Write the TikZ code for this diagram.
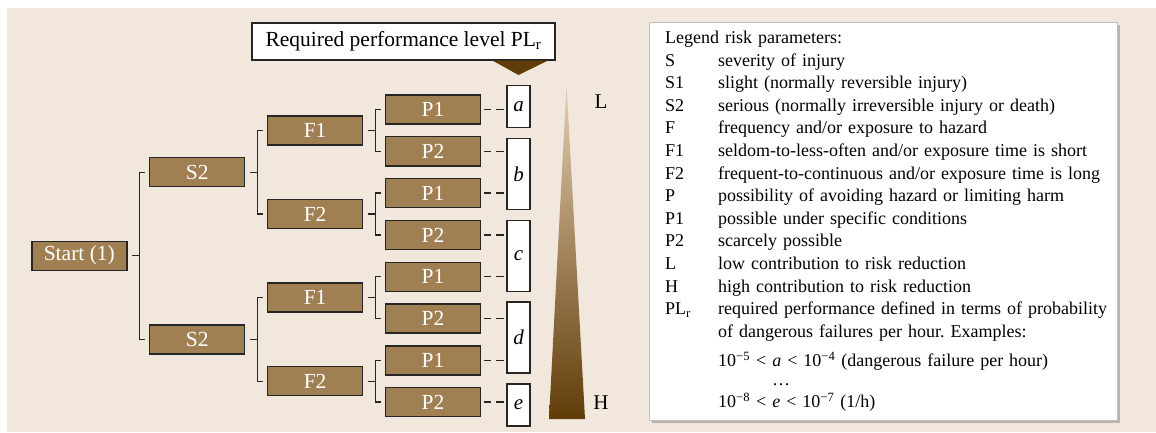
\documentclass[tikz,border=0pt]{standalone}
\usepackage{fontspec}
\setmainfont{Liberation Serif}
\usetikzlibrary{positioning,calc,shadows}
\definecolor{panelbg}{RGB}{242,231,221}
\definecolor{boxbrown}{RGB}{160,128,82}
\definecolor{darkbrown}{RGB}{96,60,8}
\definecolor{lightbrown}{RGB}{228,206,178}
\tikzset{
	treebox/.style={draw=black!85, line width=1.4pt, fill=boxbrown, text=white,
		minimum width=95pt, minimum height=29pt, inner sep=0pt,
		font=\fontsize{21.5}{24}\selectfont},
	lvlbox/.style={draw=black!85, line width=1.3pt, fill=white, minimum width=23pt,
		inner sep=0pt, font=\fontsize{21}{24}\selectfont\itshape},
	fork/.style={line width=1.3pt, black!85},
	dashlink/.style={line width=1.3pt, black!85, dash pattern=on 7.5pt off 5pt},
	sidelabel/.style={font=\fontsize{21}{24}\selectfont, inner sep=0pt}
}
\newcommand{\branch}[2]{\draw[fork] ([xshift=4.5pt]#1.east) -- ++(7.5pt,0) |- ([xshift=-4pt]#2.west);}

\begin{document}
\frenchspacing
\begin{tikzpicture}[x=1pt, y=-1pt]
	
	\useasboundingbox (0,0) rectangle (1156,433);
	\fill[white] (0,0) rectangle (1156,433);
	\fill[panelbg] (7,8) rectangle (1156,432);
	
	%% -- P level
	\node[treebox] (p1) at (433,109.5) {P1};
	\node[treebox, below=11.4pt of p1] (p2) {P2};
	\node[treebox, below=11.4pt of p2] (p3) {P1};
	\node[treebox, below=11.4pt of p3] (p4) {P2};
	\node[treebox, below=11.4pt of p4] (p5) {P1};
	\node[treebox, below=11.4pt of p5] (p6) {P2};
	\node[treebox, below=11.4pt of p6] (p7) {P1};
	\node[treebox, below=11.4pt of p7] (p8) {P2};
	
	%% -- F level
	\node[treebox, left=21.5pt of $(p1.west)!0.5!(p2.west)$] (f1) {F1};
	\node[treebox, left=21.5pt of $(p3.west)!0.5!(p4.west)$] (f2) {F2};
	\node[treebox, left=21.5pt of $(p5.west)!0.5!(p6.west)$] (f3) {F1};
	\node[treebox, left=21.5pt of $(p7.west)!0.5!(p8.west)$] (f4) {F2};
	
	%% -- S level and start
	\node[treebox, left=21.5pt of $(f1.west)!0.5!(f2.west)$] (s1) {S2};
	\node[treebox, left=21.5pt of $(f3.west)!0.5!(f4.west)$] (s2) {S2};
	\node[treebox, left=21.5pt of $(s1.west)!0.5!(s2.west)$] (start) {Start (1)};
	
	%% -- Brackets
	\branch{start}{s1} \branch{start}{s2}
	\branch{s1}{f1} \branch{s1}{f2}
	\branch{s2}{f3} \branch{s2}{f4}
	\branch{f1}{p1} \branch{f1}{p2}
	\branch{f2}{p3} \branch{f2}{p4}
	\branch{f3}{p5} \branch{f3}{p6}
	\branch{f4}{p7} \branch{f4}{p8}
	
	%% -- Performance levels
	\node[lvlbox, minimum height=42pt, anchor=north] (a) at (518.5,85) {a};
	\node[lvlbox, minimum height=71pt, below=9.5pt of a] (b) {b};
	\node[lvlbox, minimum height=71pt, below=9.5pt of b] (c) {c};
	\node[lvlbox, minimum height=71pt, below=9.5pt of c] (d) {d};
	\node[lvlbox, minimum height=42pt, below=9.5pt of d] (e) {e};
	
	\foreach \p/\l in {p1/a, p2/b, p3/b, p4/c, p5/c, p6/d, p7/d, p8/e}
	\draw[dashlink] ([xshift=2.5pt]\p.east) -- (\p.east -| \l.west);
	
	%% -- Title and pointer
	\node[draw=black!85, line width=1.4pt, fill=white, minimum width=303pt,
	minimum height=37pt, inner sep=0pt, font=\fontsize{21.5}{24}\selectfont]
	(title) at (403.5,41.5) {Required performance level PL\textsubscript{r}};
	
	\fill[darkbrown] ([xshift=-63pt]title.south east) -- ([xshift=-8pt]title.south east)
	-- ([yshift=10pt]a.north) -- cycle;
	
	%% -- Risk wedge
	\coordinate (gtip) at (566.5,85);
	\coordinate (gbase) at (567,419);
	\shade[top color=lightbrown, bottom color=darkbrown]
	(gtip) -- ([xshift=18pt]gbase) -- ([xshift=-18pt]gbase) -- cycle;
	\node[sidelabel] (lowlbl) at (601,102) {L};
	\node[sidelabel] (highlbl) at (601,403) {H};
	
	%% -- Legend
	\node[draw=black!25, line width=0.4pt, fill=white,
	drop shadow={shadow xshift=3pt, shadow yshift=-3pt, fill=black!50},
	anchor=north west, text width=436pt, inner xsep=16pt, inner ysep=5pt,
	minimum height=398pt, align=left, font=\fontsize{18}{22.6}\selectfont]
	(legend) at (649,22) {%
		\begin{tabular}{@{}p{53pt}@{}l@{}}
			\multicolumn{2}{@{}l@{}}{Legend risk parameters:}\\
			S & severity of injury\\
			S1 & slight (normally reversible injury)\\
			S2 & serious (normally irreversible injury or death)\\
			F & frequency and/or exposure to hazard\\
			F1 & seldom-to-less-often and/or exposure time is short\\
			F2 & frequent-to-continuous and/or exposure time is long\\
			P & possibility of avoiding hazard or limiting harm\\
			P1 & possible under specific conditions\\
			P2 & scarcely possible\\
			L & low contribution to risk reduction\\
			H & high contribution to risk reduction\\
			PL\textsubscript{r} & required performance defined in terms of probability\\
			& of dangerous failures per hour. Examples:\\[6.4pt]
			& 10\textsuperscript{−5} < \textit{a} < 10\textsuperscript{−4} (dangerous failure per hour)\\[-3.6pt]
			& \hspace{54pt}…\\
			& 10\textsuperscript{−8} < \textit{e} < 10\textsuperscript{−7} (1/h)
		\end{tabular}};
	
\end{tikzpicture}
\end{document}
